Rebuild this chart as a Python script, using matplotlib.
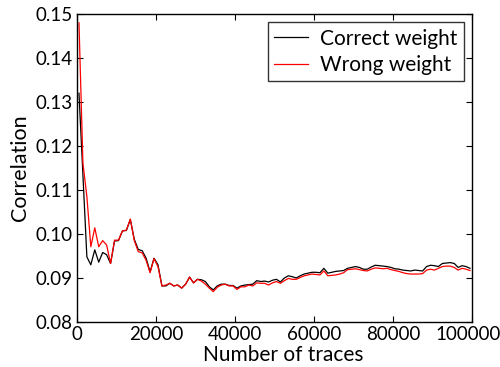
import numpy as np
import matplotlib
matplotlib.use("Agg")
import matplotlib.pyplot as plt
import matplotlib.transforms as mtransforms

plt.rcParams['font.family'] = ['Lato', 'DejaVu Sans']

# number of traces, one sample every 1000 traces
traces = np.arange(500, 100000, 1000)

correct = [
    0.1320, 0.1134, 0.0948, 0.0930, 0.0964, 0.0936, 0.0958, 0.0953, 0.0933, 0.0984,
    0.0985, 0.1007, 0.1008, 0.1033, 0.0988, 0.0965, 0.0962, 0.0945, 0.0914, 0.0945,
    0.0930, 0.0882, 0.0882, 0.0888, 0.0882, 0.0884, 0.0877, 0.0886, 0.0902, 0.0889,
    0.0897, 0.0896, 0.0892, 0.0880, 0.0873, 0.0882, 0.0886, 0.0886, 0.0883, 0.0883,
    0.0877, 0.0882, 0.0884, 0.0885, 0.0886, 0.0894, 0.0892, 0.0893, 0.0891, 0.0895,
    0.0897, 0.0891, 0.0900, 0.0905, 0.0903, 0.0900, 0.0905, 0.0909, 0.0911, 0.0913,
    0.0913, 0.0912, 0.0922, 0.0911, 0.0913, 0.0915, 0.0916, 0.0917, 0.0922, 0.0924,
    0.0926, 0.0924, 0.0920, 0.0920, 0.0925, 0.0929, 0.0928, 0.0927, 0.0926, 0.0924,
    0.0921, 0.0920, 0.0918, 0.0917, 0.0916, 0.0918, 0.0917, 0.0916, 0.0926, 0.0929,
    0.0928, 0.0926, 0.0933, 0.0934, 0.0935, 0.0933, 0.0924, 0.0928, 0.0926, 0.0922,
]

wrong = [
    0.1480, 0.1161, 0.1085, 0.0971, 0.1014, 0.0971, 0.0985, 0.0975, 0.0933, 0.0986,
    0.0986, 0.1007, 0.1009, 0.1034, 0.0985, 0.0960, 0.0957, 0.0940, 0.0912, 0.0944,
    0.0926, 0.0882, 0.0884, 0.0888, 0.0882, 0.0884, 0.0877, 0.0886, 0.0902, 0.0889,
    0.0897, 0.0893, 0.0886, 0.0877, 0.0869, 0.0879, 0.0884, 0.0886, 0.0882, 0.0882,
    0.0874, 0.0880, 0.0880, 0.0884, 0.0882, 0.0889, 0.0888, 0.0888, 0.0884, 0.0889,
    0.0892, 0.0888, 0.0894, 0.0899, 0.0897, 0.0897, 0.0901, 0.0905, 0.0907, 0.0909,
    0.0908, 0.0907, 0.0916, 0.0905, 0.0906, 0.0907, 0.0909, 0.0912, 0.0919, 0.0920,
    0.0921, 0.0919, 0.0917, 0.0916, 0.0920, 0.0923, 0.0922, 0.0921, 0.0922, 0.0919,
    0.0917, 0.0915, 0.0912, 0.0910, 0.0909, 0.0909, 0.0909, 0.0910, 0.0918, 0.0920,
    0.0918, 0.0922, 0.0926, 0.0927, 0.0927, 0.0924, 0.0918, 0.0922, 0.0920, 0.0917,
]

x_ticks = [0, 20000, 40000, 60000, 80000, 100000]
y_ticks = [0.08, 0.09, 0.10, 0.11, 0.12, 0.13, 0.14, 0.15]

fig = plt.figure(figsize=(5, 3.67), dpi=100)
ax = fig.add_axes([0.154, 0.1226, 0.79, 0.8393])

ax.plot(traces, correct, color='k', lw=0.9, label='Correct weight')
ax.plot(traces, wrong, color='r', lw=0.9, label='Wrong weight')

ax.set_xlim(0, 100000)
ax.set_ylim(0.08, 0.15)
ax.set_xticks(x_ticks)
ax.set_yticks(y_ticks)
ax.set_yticklabels(['%.2f' % v for v in y_ticks])
ax.tick_params(direction='in', top=True, right=True, labelsize=13.5, length=4, pad=3)
for s in ax.spines.values():
    s.set_linewidth(1.0)

# keep the last x tick label inside the canvas
last = ax.get_xticklabels()[-1]
last.set_transform(last.get_transform() +
                   mtransforms.ScaledTranslation(-4 / 100, 0, fig.dpi_scale_trans))

ax.set_xlabel('Number of traces', fontsize=15, labelpad=1)
ax.xaxis.label.set_x(0.523)
ax.set_ylabel('Correlation', fontsize=15.5, labelpad=4)

leg = ax.legend(loc='upper right', fontsize=15, frameon=True, fancybox=False,
                handlelength=1.6, handletextpad=0.6, borderpad=0.3,
                labelspacing=0.3, borderaxespad=0.4)
leg.get_frame().set_edgecolor('k')
leg.get_frame().set_linewidth(1.0)

fig.savefig('out.png', dpi=100)
